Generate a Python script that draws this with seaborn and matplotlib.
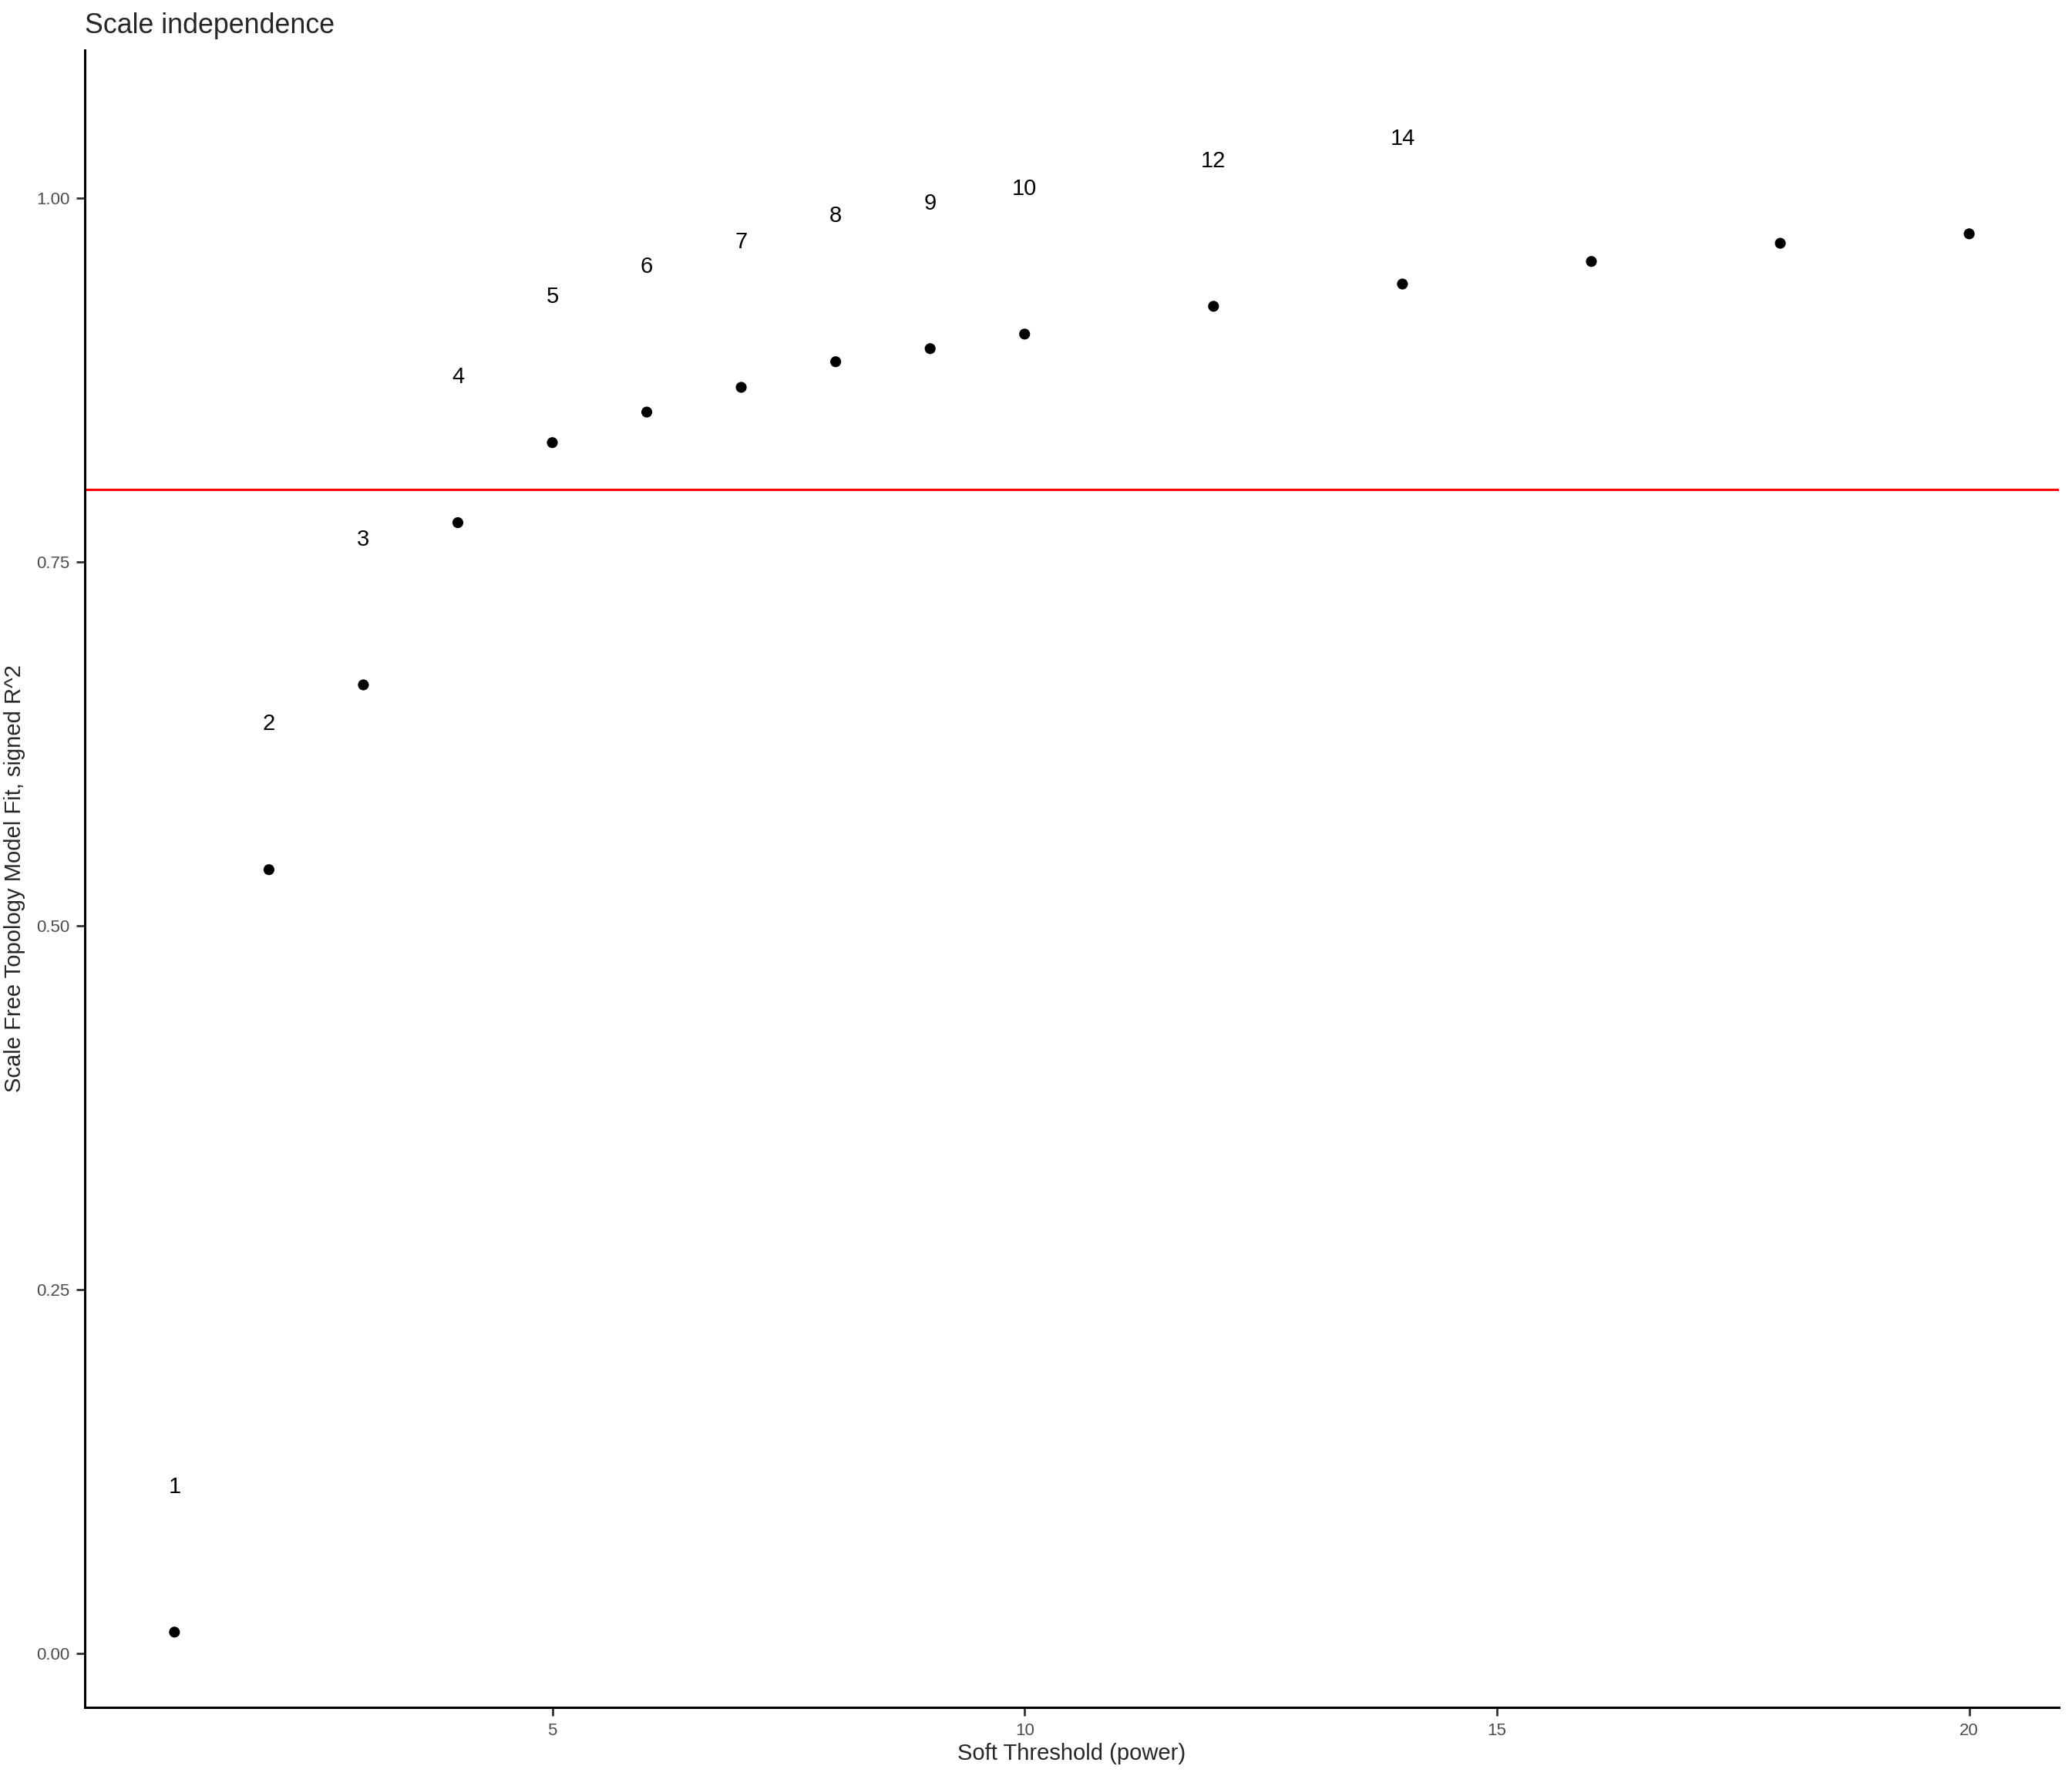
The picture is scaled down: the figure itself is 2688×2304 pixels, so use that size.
import numpy as np
import pandas as pd
import matplotlib
matplotlib.use("Agg")
import matplotlib.pyplot as plt
import seaborn as sns

# soft-threshold powers and signed R^2 of the scale-free fit
powers = [1, 2, 3, 4, 5, 6, 7, 8, 9, 10, 12, 14, 16, 18, 20]
r2 = [0.0145, 0.5385, 0.6655, 0.777, 0.832, 0.853, 0.870, 0.8876,
      0.8966, 0.9066, 0.9257, 0.941, 0.9565, 0.969, 0.9755]
label_offset = 0.1
y_cut = 1.05   # labels above this were dropped by the y scale
cutoff = 0.8

df = pd.DataFrame({"power": powers, "r2": r2})
df["label_y"] = df["r2"] + label_offset

sns.set_style("white")
plt.rcParams["font.family"] = ["Liberation Sans", "DejaVu Sans"]

fig = plt.figure(figsize=(13.44, 11.52), dpi=200)
ax = fig.add_axes([0.0409, 0.0386, 0.9528, 0.9332])

sns.scatterplot(data=df, x="power", y="r2", ax=ax, color="black",
                s=26, edgecolor="none", zorder=3)

for _, row in df[df["label_y"] <= y_cut].iterrows():
    ax.text(row["power"], row["label_y"], f"{int(row['power'])}",
            ha="center", va="center", fontsize=10.5, color="black")

ax.axhline(cutoff, color="red", lw=1.1, zorder=2)

# ggplot-like 5% expansion
xlo, xhi = min(powers), max(powers)
xr = xhi - xlo
ax.set_xlim(xlo - 0.05 * xr, xhi + 0.05 * xr)
ylo, yhi = min(r2), y_cut
yr = yhi - ylo
ax.set_ylim(ylo - 0.05 * yr, yhi + 0.05 * yr)

ax.set_xticks([5, 10, 15, 20])
ax.set_yticks([0, 0.25, 0.5, 0.75, 1.0])
ax.set_yticklabels([f"{v:.2f}" for v in [0, 0.25, 0.5, 0.75, 1.0]])
ax.tick_params(axis="both", length=4, width=1, color="#333333",
               labelsize=8, labelcolor="#4D4D4D", pad=3,
               bottom=True, left=True)

for side in ["top", "right"]:
    ax.spines[side].set_visible(False)
for side in ["left", "bottom"]:
    ax.spines[side].set_color("black")
    ax.spines[side].set_linewidth(1.1)

ax.set_xlabel("Soft Threshold (power)", fontsize=10.5, labelpad=2)
ax.set_ylabel("Scale Free Topology Model Fit, signed R^2", fontsize=10.5, labelpad=5)
ax.set_title("Scale independence", loc="left", fontsize=12.9, pad=8)

fig.savefig("out.png", dpi=200)
